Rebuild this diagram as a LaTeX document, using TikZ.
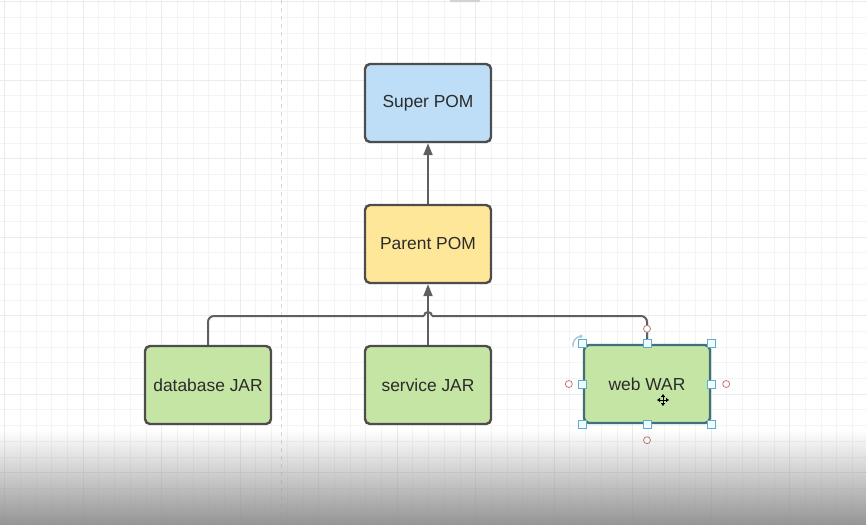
\documentclass[tikz,border=0pt]{standalone}
\usepackage{fontspec}
\setmainfont{Liberation Sans}
\usepackage{xcolor}
\usetikzlibrary{arrows.meta, calc, fadings}
\definecolor{pomblue}{HTML}{BDDEF6}
\definecolor{pomyellow}{HTML}{FFE799}
\definecolor{jargreen}{HTML}{C5E5A4}
\definecolor{boxline}{HTML}{4D4D4D}
\definecolor{boxtext}{HTML}{2B2B2B}
\definecolor{selline}{HTML}{40707A}
\definecolor{handleblue}{HTML}{5AAFCF}
\definecolor{handlered}{HTML}{C07878}
\definecolor{rotblue}{HTML}{A9C6DA}
\tikzfading[name=fadebottom, top color=transparent!100, bottom color=transparent!0]
\tikzset{
    box/.style={draw=boxline, line width=2.4pt, rounded corners=5pt,
        minimum width=126pt, minimum height=78pt, text=boxtext,
        font=\fontsize{17.4}{20}\selectfont},
    up_arrow/.style={-{Triangle[length=12pt, width=9pt]}, line width=2pt, draw=boxline!90},
    bus_line/.style={line width=2pt, draw=boxline!90, rounded corners=6pt},
    grid_minor/.style={line width=0.6pt, gray!9},
    grid_major/.style={line width=0.9pt, gray!16},
    dashed_line/.style={dashed, dash pattern=on 4pt off 4pt, line width=0.8pt, gray!30},
    handle/.style={draw=handleblue, fill=cyan!5, line width=0.9pt, minimum size=8pt, inner sep=0pt},
    anchor_dot/.style={circle, draw=handlered, fill=white, line width=0.8pt, minimum size=7pt, inner sep=0pt}
}

\begin{document}
\begin{tikzpicture}[x=1pt, y=-1pt]
    \useasboundingbox (0,0) rectangle (867,525);
    % canvas grid
    \foreach \i in {0,...,54} \draw[grid_minor] ({4.5+15.7*\i},0) -- ({4.5+15.7*\i},525);
    \foreach \i in {0,...,33} \draw[grid_minor] (0,{1.5+15.7*\i}) -- (867,{1.5+15.7*\i});
    \foreach \i in {0,...,10} \draw[grid_major] ({4.5+78.5*\i},0) -- ({4.5+78.5*\i},525);
    \foreach \i in {0,...,6} \draw[grid_major] (0,{1.5+78.5*\i}) -- (867,{1.5+78.5*\i});
    \draw[dashed_line] (281,0) -- (281,525);
    \fill[gray!35, rounded corners=1pt] (450,-2) rectangle (480,2);

    % POM hierarchy
    \node[box, fill=pomblue] (super) at (428,103) {Super POM};
    \node[box, fill=pomyellow] (parent) at (428,244) {Parent POM};
    \node[box, fill=jargreen] (database) at (208,385) {database JAR};
    \node[box, fill=jargreen] (service) at (428,385) {service JAR};
    \node[box, fill=jargreen, draw=selline] (web) at (647,384) {web WAR};

    \draw[up_arrow] (parent.north) -- (super.south);
    \draw[up_arrow] (service.north) -- (parent.south);
    \coordinate (bus) at (428,316);
    \coordinate (hopL) at ($(bus)+(-4,0)$);
    \coordinate (hopR) at ($(bus)+(4,0)$);
    \draw[bus_line] (database.north) |- (hopL);
    \draw[bus_line] (hopL) arc[start angle=180, end angle=360, radius=4];
    \draw[bus_line] (hopR) -| (web.north);

    % selection of web WAR
    \foreach \a [count=\k] in {north west, north, north east, west, east, south west, south, south east}
        \node[handle] (h\k) at (web.\a) {};
    \node[anchor_dot] (dn) at ($(web.north)+(0,-15)$) {};
    \node[anchor_dot] (dw) at ($(web.west)+(-14,0)$) {};
    \node[anchor_dot] (de) at ($(web.east)+(15,0)$) {};
    \node[anchor_dot] (ds) at ($(web.south)+(0,16)$) {};
    \draw[-{Triangle[length=3pt, width=4pt]}, line width=1.4pt, rotblue]
        (573,347) .. controls (572,341) and (576,337) .. (583,336);
    \draw[{Triangle[length=3pt, width=4pt]}-{Triangle[length=3pt, width=4pt]}, line width=1pt, black]
        (657,400) -- (669,400);
    \draw[{Triangle[length=3pt, width=4pt]}-{Triangle[length=3pt, width=4pt]}, line width=1pt, black]
        (663,394) -- (663,406);

    % video fade at the bottom
    \fill[black!42, path fading=fadebottom] (0,430) rectangle (867,525);
\end{tikzpicture}
\end{document}
